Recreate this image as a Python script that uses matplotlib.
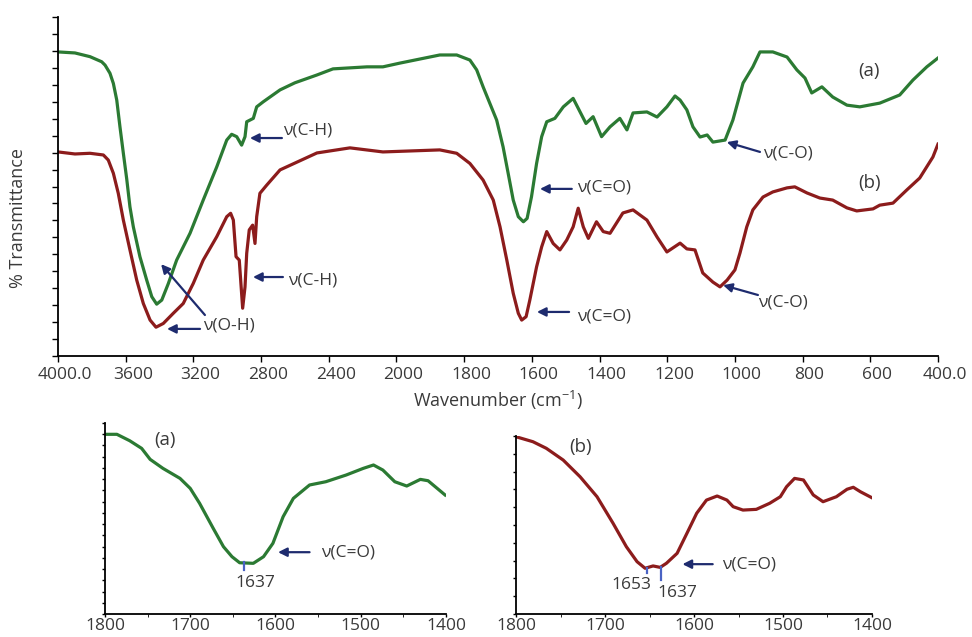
import numpy as np
import matplotlib
matplotlib.use('Agg')
import matplotlib.pyplot as plt
from matplotlib.transforms import ScaledTranslation

plt.rcParams['font.family'] = ['Open Sans', 'DejaVu Sans']
plt.rcParams['mathtext.fontset'] = 'custom'
plt.rcParams['mathtext.rm'] = 'Open Sans'
plt.rcParams['mathtext.it'] = 'Open Sans'

# ---- data (arbitrary transmittance units) ----
# main spectrum (a), green
wn_a = [4000, 3900, 3811, 3742, 3722, 3693, 3673, 3653, 3634, 3614, 3594, 3575, 3555,
        3516, 3476, 3446, 3417, 3387, 3348, 3299, 3220, 3142, 3062, 3003, 2974, 2944,
        2915, 2895, 2885, 2846, 2826, 2787, 2688, 2600, 2470, 2375, 2174, 2080, 1990,
        1872, 1822, 1783, 1763, 1744, 1724, 1704, 1685, 1670, 1655, 1640, 1625, 1614,
        1601, 1586, 1571, 1556, 1532, 1507, 1478, 1458, 1440, 1419, 1394, 1369, 1340,
        1319, 1301, 1260, 1230, 1201, 1177, 1162, 1142, 1124, 1103, 1082, 1065, 1029,
        1006, 976, 947, 926, 888, 846, 817, 793, 773, 743, 711, 669, 631, 572, 513,
        474, 433, 400]
t_a = [89.7, 89.4, 88.3, 86.8, 85.8, 83.4, 80.4, 75.5, 67.6, 59.8, 52.2, 44.0, 38.1,
       29.3, 22.4, 17.5, 15.3, 16.5, 21.4, 28.3, 36.2, 46.0, 55.8, 63.7, 65.4, 64.7,
       62.2, 64.7, 69.1, 70.1, 73.5, 75.0, 78.5, 80.6, 82.9, 84.7, 85.3, 85.3, 86.4,
       88.8, 88.8, 87.3, 84.4, 79.4, 74.5, 69.6, 61.7, 53.9, 46.0, 41.1, 39.6, 40.6,
       47.0, 56.8, 64.7, 69.1, 70.1, 73.5, 76.0, 72.1, 68.6, 70.6, 64.7, 67.6, 70.1,
       66.7, 71.7, 72.0, 70.5, 73.5, 76.7, 75.5, 72.6, 67.6, 64.6, 65.2, 63.1, 63.7,
       69.6, 80.5, 85.3, 89.7, 89.7, 88.2, 84.4, 82.0, 77.6, 79.4, 76.4, 74.0, 73.5,
       74.6, 77.0, 81.4, 85.3, 87.9]

# main spectrum (b), dark red
wn_b = [4000, 3900, 3811, 3732, 3703, 3673, 3644, 3614, 3575, 3535, 3496, 3456, 3421,
        3378, 3319, 3260, 3201, 3142, 3062, 3003, 2980, 2964, 2948, 2929, 2909, 2895,
        2885, 2870, 2850, 2836, 2826, 2807, 2767, 2688, 2470, 2275, 2080, 1872, 1822,
        1783, 1744, 1714, 1694, 1674, 1655, 1640, 1630, 1617, 1606, 1586, 1571, 1556,
        1537, 1517, 1497, 1478, 1463, 1448, 1433, 1409, 1389, 1369, 1331, 1301, 1260,
        1230, 1201, 1162, 1142, 1118, 1095, 1065, 1044, 1023, 1000, 985, 965, 947, 917,
        888, 846, 823, 787, 749, 711, 669, 640, 592, 572, 533, 492, 454, 415, 400]
t_b = [60.2, 59.6, 59.8, 59.3, 57.8, 53.9, 48.0, 40.1, 31.3, 22.4, 15.5, 10.6, 8.5,
       9.6, 12.6, 15.5, 21.4, 28.3, 35.2, 41.1, 42.1, 40.1, 29.3, 28.3, 14.1, 20.4,
       30.3, 37.2, 38.6, 33.2, 41.1, 48.0, 50.4, 54.9, 59.9, 61.4, 60.2, 60.8, 59.8,
       56.8, 51.9, 46.0, 38.1, 28.3, 18.5, 12.6, 10.6, 11.6, 16.5, 26.3, 32.2, 36.7,
       33.2, 31.3, 34.2, 38.1, 43.6, 38.1, 34.7, 39.6, 36.7, 36.2, 42.2, 43.1, 40.1,
       35.1, 30.7, 33.3, 31.6, 31.3, 24.5, 21.8, 20.4, 22.4, 25.4, 30.4, 38.1, 43.1, 46.9,
       48.4, 49.6, 49.9, 48.1, 46.6, 46.0, 43.7, 42.8, 43.4, 44.5, 45.1, 49.0, 52.5, 58.7,
       62.5]

# insets, 1800-1400 cm-1
wn_ia = [1800, 1786, 1771, 1757, 1747, 1732, 1712, 1700, 1689, 1673, 1661, 1651, 1642,
         1626, 1614, 1603, 1591, 1579, 1560, 1541, 1517, 1497, 1485, 1474, 1460, 1446,
         1430, 1421, 1401]
t_ia = [15.99, 15.99, 15.42, 14.74, 13.76, 12.96, 12.07, 11.18, 9.85, 7.62, 5.99, 5.10,
        4.56, 4.51, 5.10, 6.29, 8.66, 10.29, 11.48, 11.77, 12.37, 12.96, 13.26, 12.81,
        11.77, 11.39, 11.98, 11.86, 10.59]

wn_ib = [1800, 1781, 1766, 1747, 1728, 1709, 1691, 1676, 1664, 1655, 1646, 1638, 1631,
         1619, 1608, 1597, 1586, 1574, 1563, 1556, 1545, 1530, 1515, 1503, 1496, 1487,
         1477, 1466, 1455, 1440, 1428, 1421, 1413, 1400]
t_ib = [9.96, 9.68, 9.31, 8.65, 7.71, 6.59, 5.10, 3.78, 2.94, 2.57, 2.70, 2.62, 2.85,
        3.41, 4.53, 5.66, 6.40, 6.63, 6.40, 6.03, 5.84, 5.88, 6.22, 6.59, 7.15, 7.62,
        7.53, 6.69, 6.31, 6.59, 7.01, 7.12, 6.87, 6.53]

main_ticks = [4000, 3600, 3200, 2800, 2400, 2000, 1800, 1600, 1400, 1200, 1000, 800, 600, 400]
main_labels = ['4000.0', '3600', '3200', '2800', '2400', '2000', '1800', '1600', '1400',
               '1200', '1000', '800', '600', '400.0']
inset_ticks = [1800, 1700, 1600, 1500, 1400]

GREEN = '#2b7a33'
RED = '#8c1c1c'
NAVY = '#1e2b6e'
TICKBLUE = '#4a63c4'
TXT = '#3a3a3a'
FS = 12.5


# FTIR style axis: 4000-2000 compressed by half
def fwd(x):
    x = np.asarray(x, dtype=float)
    return np.where(x > 2000, 2000 + (x - 2000) / 2.0, x)


def inv(y):
    y = np.asarray(y, dtype=float)
    return np.where(y > 2000, 2000 + (y - 2000) * 2.0, y)


def style_axis(ax, ylen, xlen=4, xpad=4):
    for s in ['top', 'right']:
        ax.spines[s].set_visible(False)
    for s in ['left', 'bottom']:
        ax.spines[s].set_linewidth(1.3)
    ax.tick_params(axis='y', direction='out', length=ylen, width=1.0, labelleft=False)
    ax.tick_params(axis='x', direction='out', length=xlen, width=1.0, labelsize=FS,
                   labelcolor=TXT, pad=xpad)


def arrow(ax, head, tail):
    ax.annotate('', xy=head, xytext=tail,
                arrowprops=dict(arrowstyle='-|>', color=NAVY, lw=1.6, mutation_scale=13,
                                shrinkA=0, shrinkB=0))


fig = plt.figure(figsize=(9.72, 6.37), dpi=100)

# ---- main chart ----
ax = fig.add_axes([0.0597, 0.4411, 0.9053, 0.5322])
ax.set_xscale('function', functions=(fwd, inv))
ax.plot(wn_a, t_a, color=GREEN, lw=2.3)
ax.plot(wn_b, t_b, color=RED, lw=2.3)
ax.set_xlim(4000, 400)
ax.set_ylim(0, 100)
ax.set_xticks(main_ticks)
ax.set_xticklabels(main_labels)
ax.set_yticks(np.arange(0, 101, 5))
style_axis(ax, 4)
ax.xaxis.set_minor_locator(matplotlib.ticker.NullLocator())
for lab in ax.get_xticklabels():
    lab.set_transform(lab.get_transform() + ScaledTranslation(7 / 100, 0, fig.dpi_scale_trans))
ax.set_xlabel('Wavenumber (cm$^{-1}$)', fontsize=FS + 0.5, color=TXT, labelpad=4)
fig.text(0.0185, 1 - 218 / 637, '% Transmittance', rotation=90, fontsize=FS + 0.5,
         color=TXT, ha='center', va='center')

arrow(ax, (2866, 64.3), (2677, 64.3))
ax.text(2671, 66.4, 'ν(C-H)', fontsize=FS, color=TXT, va='center', ha='left')
arrow(ax, (2848, 23.3), (2671, 23.3))
ax.text(2641, 22.4, 'ν(C-H)', fontsize=FS, color=TXT, va='center', ha='left')
arrow(ax, (3356, 8.0), (3161, 8.0))
arrow(ax, (3391, 27.1), (3132, 12.1))
ax.text(3143, 9.1, 'ν(O-H)', fontsize=FS, color=TXT, va='center', ha='left')
arrow(ax, (1576, 49.3), (1482, 49.3))
ax.text(1467, 49.6, 'ν(C=O)', fontsize=FS, color=TXT, va='center', ha='left')
arrow(ax, (1585, 13.0), (1490, 13.0))
ax.text(1467, 11.8, 'ν(C=O)', fontsize=FS, color=TXT, va='center', ha='left')
arrow(ax, (1024, 63.1), (926, 60.2))
ax.text(917, 59.6, 'ν(C-O)', fontsize=FS, color=TXT, va='center', ha='left')
arrow(ax, (1035, 20.9), (932, 18.0))
ax.text(932, 15.9, 'ν(C-O)', fontsize=FS, color=TXT, va='center', ha='left')
ax.text(637, 84.1, '(a)', fontsize=FS + 1, color=TXT, va='center', ha='left')
ax.text(637, 51.0, '(b)', fontsize=FS + 1, color=TXT, va='center', ha='left')

# ---- inset (a) ----
axa = fig.add_axes([0.108, 0.0361, 0.3508, 0.2999])
axa.plot(wn_ia, t_ia, color=GREEN, lw=2.3)
axa.set_xlim(1800, 1400)
axa.set_ylim(0, 17)
axa.set_xticks(inset_ticks)
axa.set_xticks(np.arange(1400, 1801, 50), minor=True)
axa.set_yticks(np.arange(0, 18, 1))
style_axis(axa, 2.5, xlen=2, xpad=1)
axa.tick_params(axis='x', which='minor', length=2)
axa.plot([1637, 1637], [3.9, 4.65], color=TICKBLUE, lw=1.6)
axa.text(1624, 2.76, '1637', fontsize=FS, color=TXT, ha='center', va='center')
arrow(axa, (1597, 5.5), (1560, 5.5))
axa.text(1547, 5.5, 'ν(C=O)', fontsize=FS, color=TXT, va='center', ha='left')
axa.text(1729, 15.5, '(a)', fontsize=FS + 1, color=TXT, va='center', ha='center')

# ---- inset (b) ----
axb = fig.add_axes([0.5309, 0.0361, 0.3662, 0.2794])
axb.plot(wn_ib, t_ib, color=RED, lw=2.3)
axb.set_xlim(1800, 1400)
axb.set_ylim(0, 10)
axb.set_xticks(inset_ticks)
axb.set_xticks(np.arange(1400, 1801, 50), minor=True)
axb.set_yticks(np.arange(0, 11, 1))
style_axis(axb, 2.5, xlen=2, xpad=1)
axb.tick_params(axis='x', which='minor', length=2)
axb.plot([1653, 1653], [2.3, 2.58], color=TICKBLUE, lw=1.6)
axb.plot([1637, 1637], [1.9, 2.64], color=TICKBLUE, lw=1.6)
axb.text(1670, 1.63, '1653', fontsize=FS, color=TXT, ha='center', va='center')
axb.text(1619, 1.18, '1637', fontsize=FS, color=TXT, ha='center', va='center')
arrow(axb, (1613, 2.8), (1579, 2.8))
axb.text(1569, 2.8, 'ν(C=O)', fontsize=FS, color=TXT, va='center', ha='left')
axb.text(1728, 9.4, '(b)', fontsize=FS + 1, color=TXT, va='center', ha='center')

fig.savefig('out.png', dpi=100)
